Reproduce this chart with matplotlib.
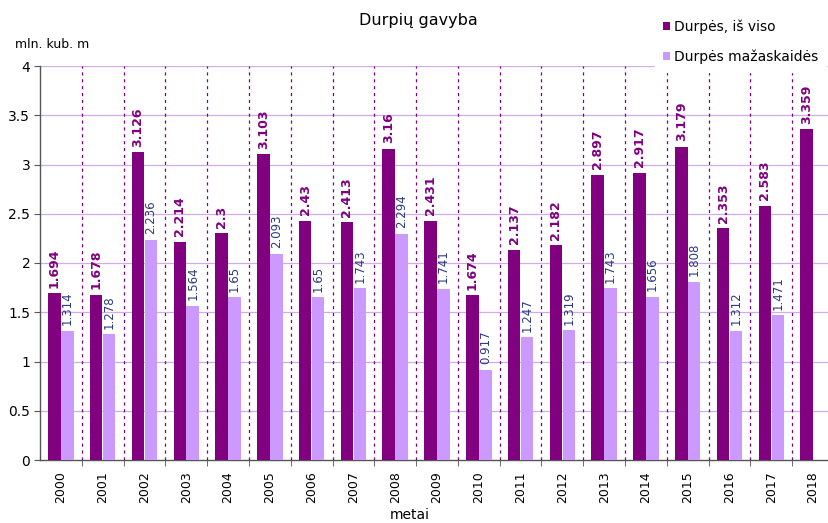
import matplotlib
matplotlib.use('Agg')
import matplotlib.pyplot as plt
import numpy as np

years = ['2000', '2001', '2002', '2003', '2004', '2005', '2006', '2007', '2008', '2009',
         '2010', '2011', '2012', '2013', '2014', '2015', '2016', '2017', '2018']
total = [1.694, 1.678, 3.126, 2.214, 2.3, 3.103, 2.43, 2.413, 3.16, 2.431,
         1.674, 2.137, 2.182, 2.897, 2.917, 3.179, 2.353, 2.583, 3.359]
fine = [1.314, 1.278, 2.236, 1.564, 1.65, 2.093, 1.65, 1.743, 2.294, 1.741,
        0.917, 1.247, 1.319, 1.743, 1.656, 1.808, 1.312, 1.471]
yticks = [0, 0.5, 1, 1.5, 2, 2.5, 3, 3.5, 4]
ytick_labels = ['0', '0.5', '1', '1.5', '2', '2.5', '3', '3.5', '4']

dark = '#800080'
light = '#cc99ff'

fig = plt.figure(figsize=(8.29, 5.23), dpi=100)
ax = fig.add_axes([40 / 829, 63 / 523, 789 / 829, 394 / 523])

x = np.arange(len(years))
w = 0.3
b1 = ax.bar(x - 0.155, total, width=w, color=dark, zorder=3, label='Durpės, iš viso')
b2 = ax.bar(x[:len(fine)] + 0.155, fine, width=w, color=light, zorder=3, label='Durpės mažaskaidės')

# value labels above bars
for xi, v in zip(x, total):
    ax.annotate(f'{v:g}', (xi - 0.155, v), xytext=(0, 4), textcoords='offset points',
                rotation=90, ha='center', va='bottom', fontsize=9, fontweight='bold',
                color=dark, zorder=4)
for xi, v in zip(x, fine):
    ax.annotate(f'{v:g}', (xi + 0.155, v), xytext=(0, 4), textcoords='offset points',
                rotation=90, ha='center', va='bottom', fontsize=8.5,
                color='#2a3a80', zorder=4)

ax.set_xlim(-0.5, 18.38)
ax.set_ylim(0, 4)

# horizontal grid
for yv in yticks[1:]:
    ax.axhline(yv, color='#d0ace8', lw=0.9, zorder=1)
# dashed separators between years
for b in np.arange(0.5, len(years) - 0.5, 1):
    ax.axvline(b, color=dark, lw=0.9, ls=(0, (2.5, 3)), zorder=1)

ax.set_yticks(yticks)
ax.set_yticklabels(ytick_labels, fontsize=10)
ax.set_xticks(x)
ax.set_xticklabels(years, rotation=90, fontsize=9)
ax.tick_params(axis='x', length=0, pad=8)
ax.set_xticks(np.arange(0.5, len(years) - 0.5, 1), minor=True)
ax.tick_params(axis='x', which='minor', length=4, color='#555555')
ax.tick_params(axis='y', length=4, color='#555555', pad=3)

for s in ['top', 'right']:
    ax.spines[s].set_visible(False)
for s in ['left', 'bottom']:
    ax.spines[s].set_color('#555555')
    ax.spines[s].set_linewidth(1.0)

fig.text(418 / 829, 1 - 20 / 523, 'Durpių gavyba', ha='center', va='center', fontsize=11.5)
fig.text(15 / 829, 1 - 45 / 523, 'mln. kub. m', ha='left', va='center', fontsize=9)
fig.text(410 / 829, 1 - 515 / 523, 'metai', ha='center', va='center', fontsize=10)

leg = fig.legend(handles=[b1, b2], loc='upper left', bbox_to_anchor=(655 / 829, 1 - 12 / 523),
                 frameon=True, fontsize=10, handlelength=0.55, handleheight=0.55,
                 handletextpad=0.3, labelspacing=1.1, borderpad=0.55, borderaxespad=0,
                 fancybox=False)
leg.get_frame().set_edgecolor('white')
leg.get_frame().set_facecolor('white')
leg.get_frame().set_alpha(1)
leg.set_zorder(10)

fig.savefig('out.png', dpi=100)
